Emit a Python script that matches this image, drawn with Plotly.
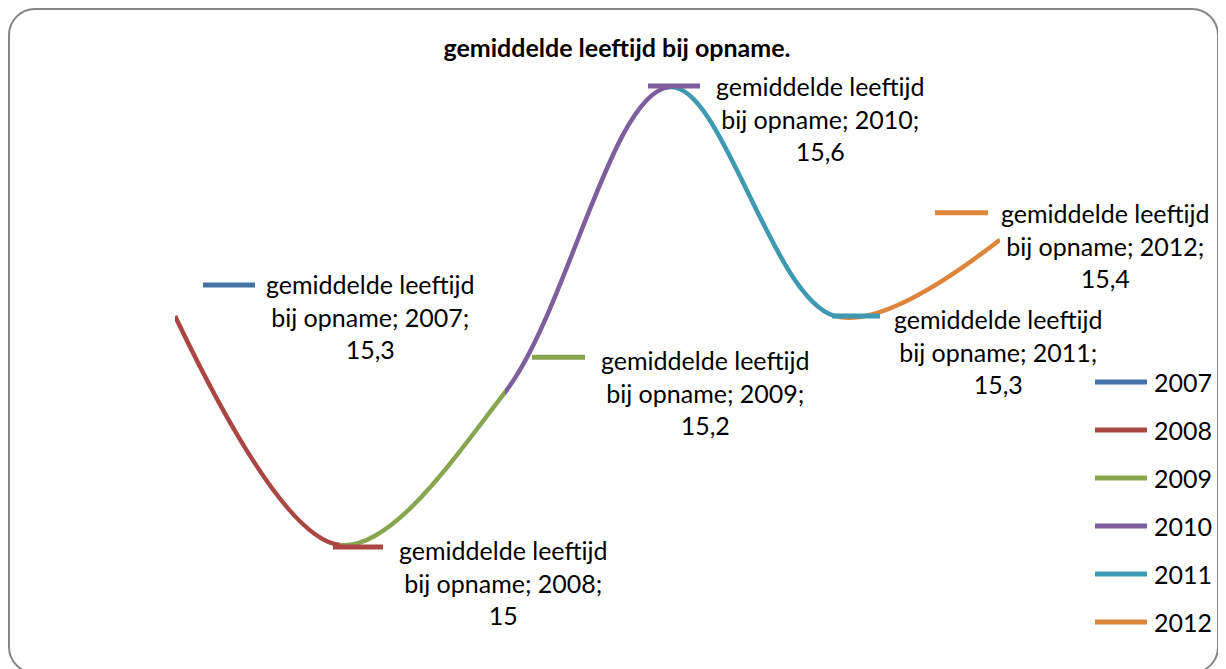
import plotly.graph_objects as go

# ---------------- data ----------------
years = [2007, 2008, 2009, 2010, 2011, 2012]
values = [15.3, 15.0, 15.2, 15.6, 15.3, 15.4]
colors = ["#4572A7", "#AA4643", "#89A54E", "#7D5F9E", "#3D9AB2", "#DE853C"]
series_name = "gemiddelde leeftijd bij opname"
title_text = "gemiddelde leeftijd bij opname."

# ---------------- layout constants ----------------
OFF = 8                      # page body margin
W, H = 1226 - OFF, 669 - OFF
FONT = "Lato"
FS = 25
X0_PX, X_STEP = 175 - OFF, 165          # pixel of first category, pixels per category
Y_REF_PX, Y_PX_PER_UNIT = 545 - OFF, 763.3

# label offsets relative to the data point (screen px, dy positive = down)
label_offsets = [(195, 0), (163, 37), (200, 0), (150, 31), (163, 35), (105, 6)]
# legend-key offsets next to each data label: (x0, x1, dy)
key_offsets = [(28, 80, -31), (-7, 43, 2), (27, 80, -35), (-22, 30, -1), (-3, 45, 0), (-65, -12, -27)]


def fmt(v):
    return ("%g" % v).replace(".", ",")


def xpx(yr):
    return X0_PX + (yr - years[0]) * X_STEP


x_range = [years[0] - X0_PX / X_STEP, years[0] + (W - X0_PX) / X_STEP]
vmin = min(values)
y_range = [vmin - (H - Y_REF_PX) / Y_PX_PER_UNIT, vmin + Y_REF_PX / Y_PX_PER_UNIT]

fig = go.Figure()

axes = {}
# one clipped copy of the smooth line per segment, coloured like its end point
for i in range(1, len(years)):
    axes[f"xaxis{i + 1}"] = dict(
        domain=[xpx(years[i - 1]) / W, xpx(years[i]) / W],
        range=[years[i - 1], years[i]],
        visible=False, anchor="y", fixedrange=True,
    )
    fig.add_trace(go.Scatter(
        x=years, y=values, mode="lines",
        line=dict(color=colors[i], width=4.5, shape="spline"),
        xaxis=f"x{i + 1}", yaxis="y", showlegend=False,
        name=str(years[i]), hoverinfo="skip",
    ))

# invisible anchor trace on the main axes (hover)
fig.add_trace(go.Scatter(
    x=years, y=values, mode="markers", marker=dict(opacity=0, size=10),
    showlegend=False, name=series_name,
    hovertemplate=series_name + "; %{x}; %{y}<extra></extra>",
))

annotations = []
shapes = []

# data labels with legend keys
for i, (yr, v) in enumerate(zip(years, values)):
    dx, dy = label_offsets[i]
    annotations.append(dict(
        x=yr, y=v, xref="x", yref="y", xshift=dx, yshift=-dy,
        text=f"gemiddelde leeftijd<br>bij opname; {yr};<br>{fmt(v)}",
        showarrow=False, xanchor="center", yanchor="middle", align="center",
        font=dict(family=FONT, size=FS, color="#000000"),
    ))
    kx0, kx1, kdy = key_offsets[i]
    shapes.append(dict(
        type="line", xref="x", yref="y",
        xsizemode="pixel", xanchor=yr, x0=kx0, x1=kx1,
        ysizemode="pixel", yanchor=v, y0=-kdy, y1=-kdy,
        line=dict(color=colors[i], width=5),
    ))

# legend (manual, long keys like Excel)
LEG_X0, LEG_X1, LEG_TX, LEG_Y0, LEG_DY = 1095 - OFF, 1147 - OFF, 1152 - OFF, 382 - OFF, 48
for i, yr in enumerate(years):
    ypx = LEG_Y0 + i * LEG_DY
    shapes.append(dict(
        type="line", xref="paper", yref="paper",
        x0=LEG_X0 / W, x1=LEG_X1 / W, y0=1 - ypx / H, y1=1 - ypx / H,
        line=dict(color=colors[i], width=5),
    ))
    annotations.append(dict(
        x=LEG_TX / W, y=1 - ypx / H, xref="paper", yref="paper",
        text=str(yr), showarrow=False, xanchor="left", yanchor="middle",
        font=dict(family=FONT, size=FS, color="#000000"),
    ))

# rounded chart border
bx0, bx1, by0, by1, r = 1, 1218 - OFF, 9 - OFF, 673 - OFF, 26
def P(px, py):
    return f"{px / W:.5f},{1 - py / H:.5f}"
k = 0.45
path = (
    f"M{P(bx0 + r, by0)} L{P(bx1 - r, by0)} "
    f"C{P(bx1 - r * k, by0)} {P(bx1, by0 + r * k)} {P(bx1, by0 + r)} "
    f"L{P(bx1, by1 - r)} "
    f"C{P(bx1, by1 - r * k)} {P(bx1 - r * k, by1)} {P(bx1 - r, by1)} "
    f"L{P(bx0 + r, by1)} "
    f"C{P(bx0 + r * k, by1)} {P(bx0, by1 - r * k)} {P(bx0, by1 - r)} "
    f"L{P(bx0, by0 + r)} "
    f"C{P(bx0, by0 + r * k)} {P(bx0 + r * k, by0)} {P(bx0 + r, by0)} Z"
)
shapes.append(dict(type="path", xref="paper", yref="paper", path=path,
                   line=dict(color="#868686", width=2), layer="below"))

fig.update_layout(
    width=W, height=H,
    margin=dict(l=0, r=0, t=0, b=0),
    paper_bgcolor="#FFFFFF", plot_bgcolor="rgba(0,0,0,0)",
    title=dict(text=f"<b>{title_text}</b>", x=0.5, xanchor="center",
               y=1 - (48 - OFF) / H, yanchor="middle",
               font=dict(family=FONT, size=FS, color="#000000")),
    xaxis=dict(domain=[0, 1], range=x_range, visible=False, fixedrange=True),
    yaxis=dict(domain=[0, 1], range=y_range, visible=False, fixedrange=True),
    showlegend=False,
    annotations=annotations,
    shapes=shapes,
    **axes,
)

fig.write_html("out.html")
